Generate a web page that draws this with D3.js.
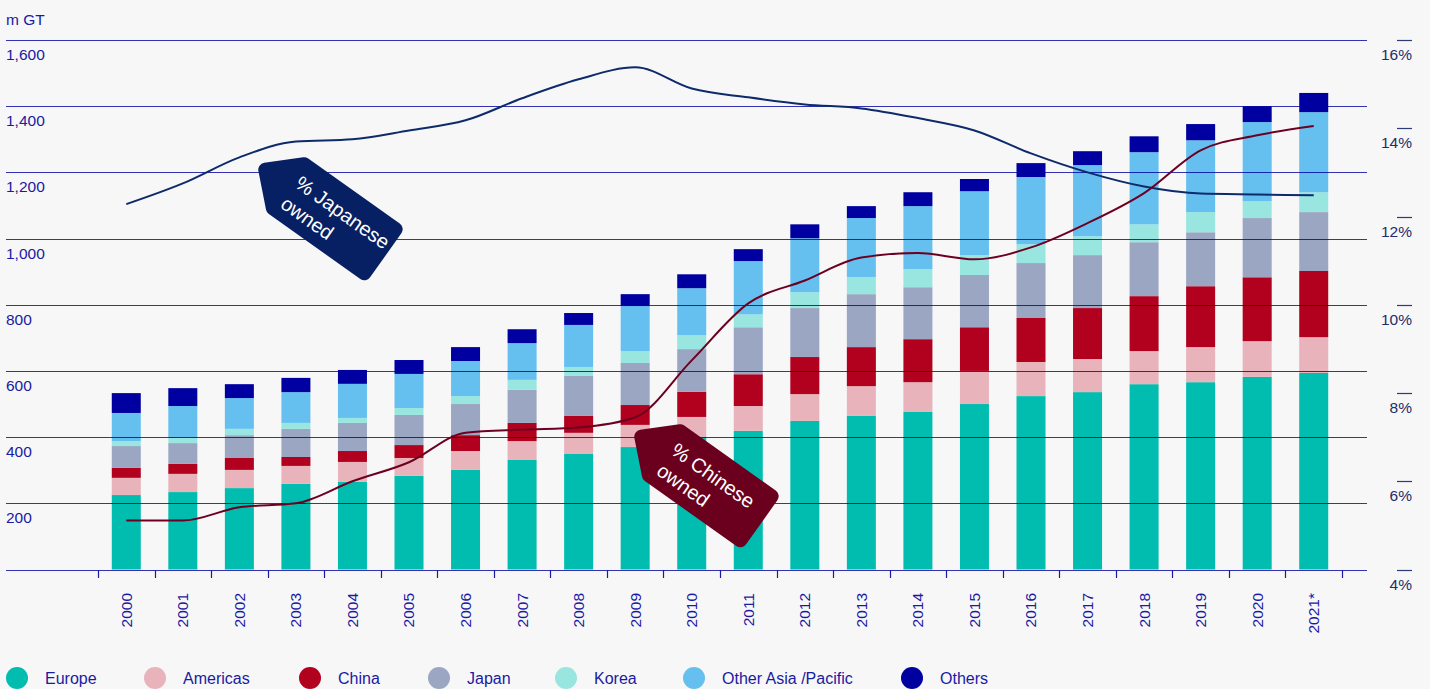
<!DOCTYPE html>
<html>
<head>
<meta charset="utf-8">
<script src="https://cdn.jsdelivr.net/npm/d3@7"></script>
<style>
  html, body { margin: 0; padding: 0; background: #f7f7f7; }
  svg { display: block; font-family: "Liberation Sans", Arial, sans-serif; }
</style>
</head>
<body>
<svg id="chart" width="1430" height="689"></svg>
<script>
// Data (m GT by owner region)
const years = ["2000","2001","2002","2003","2004","2005","2006","2007","2008","2009","2010",
  "2011","2012","2013","2014","2015","2016","2017","2018","2019","2020","2021*"];
const europe    = [225,234,246,259,265,283,301,331,349,370,400,419,449,464,476,500,524,536,560,566,582,594];
const americas  = [52,55,55,54,60,54,57,57,64,67,61,75,81,90,90,100,103,100,100,106,108,108];
const china     = [30,30,36,27,33,39,48,55,51,60,76,96,112,118,130,132,133,154,166,184,193,200];
const japan     = [66,63,69,85,85,91,94,100,121,127,129,142,148,160,157,158,166,160,163,163,179,178];
const korea     = [15,15,19,18,15,21,24,30,27,36,42,39,48,52,55,60,57,57,54,61,51,60];
const otherAsia = [85,97,93,93,103,103,106,111,127,136,142,161,163,178,190,193,203,215,218,217,239,242];
const others    = [60,54,42,43,42,42,42,42,36,36,42,36,42,36,42,37,42,42,48,49,48,58];

// share lines (% of fleet, right axis)
const japanesePct = [12.28,12.75,13.34,13.7,13.75,13.95,14.18,14.68,15.11,15.38,14.9,14.7,14.54,14.45,14.23,13.95,13.43,13.0,12.68,12.52,12.5,12.48];
const chinesePct  = [5.11,5.11,5.41,5.5,6.0,6.43,7.1,7.17,7.22,7.45,8.74,10.03,10.55,11.07,11.17,11.03,11.3,11.85,12.53,13.5,13.84,14.05];

const leftTicks = [200,400,600,800,1000,1200,1400,1600];
const rightTicks = [4,6,8,10,12,14,16];

const keys = ["Europe","Americas","China","Japan","Korea","Other Asia /Pacific","Others"];
const colors = ["#00bdb0","#e8b3bb","#b2001f","#9aa6c2","#98e6df","#65c0f0","#0000a0"];

const table = years.map((y, i) => ({
  year: y,
  "Europe": europe[i], "Americas": americas[i], "China": china[i], "Japan": japan[i],
  "Korea": korea[i], "Other Asia /Pacific": otherAsia[i], "Others": others[i]
}));

const svg = d3.select("#chart");
const blue = "#1a1aa3";

const x = d3.scaleBand().domain(years).range([98, 1342]).paddingInner(0.487).paddingOuter(0.2435);
const y = d3.scaleLinear().domain([0, 1600]).range([569.5, 40]);
const yR = d3.scaleLinear().domain([4, 16]).range([569.5, 40]);
const color = d3.scaleOrdinal().domain(keys).range(colors);
const step = x.step();

// Bars
const stacked = d3.stack().keys(keys)(table);
svg.append("g").attr("class", "bars")
  .selectAll("g")
  .data(stacked)
  .join("g")
  .attr("fill", d => color(d.key))
  .selectAll("rect")
  .data(d => d)
  .join("rect")
  .attr("x", d => x(d.data.year))
  .attr("width", x.bandwidth())
  .attr("y", d => y(d[1]))
  .attr("height", d => y(d[0]) - y(d[1]));

// Gridlines (drawn over the bars)
svg.append("g").attr("class", "grid")
  .selectAll("line")
  .data([0].concat(leftTicks))
  .join("line")
  .attr("x1", 6).attr("x2", 1367)
  .attr("y1", d => Math.round(y(d)) + 0.5)
  .attr("y2", d => Math.round(y(d)) + 0.5)
  .attr("stroke", "#0000a0")
  .attr("stroke-opacity", 0.8)
  .attr("stroke-width", 1.2);

// Left labels
svg.append("text").attr("x", 6).attr("y", 25).attr("fill", blue)
  .attr("font-size", 15.5).text("m GT");
svg.append("g").selectAll("text")
  .data(leftTicks)
  .join("text")
  .attr("x", 6)
  .attr("y", d => y(d) + 20)
  .attr("fill", blue)
  .attr("font-size", 15.5)
  .text(d => d3.format(",")(d));

// Right axis
const right = svg.append("g");
right.selectAll("line")
  .data(rightTicks)
  .join("line")
  .attr("x1", 1397).attr("x2", 1412)
  .attr("y1", d => Math.round(yR(d)) + 0.5)
  .attr("y2", d => Math.round(yR(d)) + 0.5)
  .attr("stroke", "#2d3b78").attr("stroke-width", 1.2);
right.selectAll("text")
  .data(rightTicks)
  .join("text")
  .attr("x", 1412)
  .attr("y", d => yR(d) + 20)
  .attr("text-anchor", "end")
  .attr("fill", "#1e2d6b")
  .attr("font-size", 15.5)
  .text(d => d + "%");

// X axis ticks and labels
const xTicks = years.map(d => x(d) + x.bandwidth() / 2 - step / 2);
xTicks.push(xTicks[xTicks.length - 1] + step);
svg.append("g").selectAll("line")
  .data(xTicks)
  .join("line")
  .attr("x1", d => Math.round(d) + 0.5).attr("x2", d => Math.round(d) + 0.5)
  .attr("y1", 570).attr("y2", 578)
  .attr("stroke", blue).attr("stroke-width", 1.2);
svg.append("g").selectAll("text")
  .data(years)
  .join("text")
  .attr("transform", d => `translate(${x(d) + x.bandwidth() / 2},593) rotate(-90)`)
  .attr("text-anchor", "end")
  .attr("dy", "0.35em")
  .attr("fill", blue)
  .attr("font-size", 15.5)
  .text(d => d);

// Share lines
const line = d3.line()
  .x((d, i) => x(years[i]) + x.bandwidth() / 2)
  .y(d => yR(d))
  .curve(d3.curveMonotoneX);
svg.append("path").datum(japanesePct)
  .attr("d", line).attr("fill", "none")
  .attr("stroke", "#0d2a6b").attr("stroke-width", 2);
svg.append("path").datum(chinesePct)
  .attr("d", line).attr("fill", "none")
  .attr("stroke", "#6d0020").attr("stroke-width", 2);

// Tags
function tagPath(pts, r) {
  const p = d3.path();
  const n = pts.length;
  p.moveTo((pts[n - 1][0] + pts[0][0]) / 2, (pts[n - 1][1] + pts[0][1]) / 2);
  for (let i = 0; i < n; i++) {
    const a = pts[i], b = pts[(i + 1) % n];
    p.arcTo(a[0], a[1], b[0], b[1], r);
  }
  p.closePath();
  return p.toString();
}
const tagShape = [[-97, 0], [-61, -34], [61, -34], [61, 34], [-61, 34]];

function addTag(cx, cy, fill, lines) {
  const g = svg.append("g").attr("transform", `translate(${cx},${cy}) rotate(35.4)`);
  g.append("path").attr("d", tagPath(tagShape, 7)).attr("fill", fill);
  g.selectAll("text")
    .data(lines)
    .join("text")
    .attr("x", -54)
    .attr("y", (d, i) => -3 + i * 25)
    .attr("fill", "#fff")
    .attr("font-size", 20)
    .text(d => d);
}
addTag(336, 220, "#062063", ["% Japanese", "owned"]);
addTag(712, 487, "#6b001e", ["% Chinese", "owned"]);

// Legend (circle centres as laid out in the original)
const legendX = [17, 155, 310, 439, 566, 694, 912];
const legend = svg.append("g").attr("class", "legend");
keys.forEach((k, i) => {
  legend.append("circle").attr("cx", legendX[i]).attr("cy", 678).attr("r", 11).attr("fill", colors[i]);
  legend.append("text")
    .attr("x", legendX[i] + 28).attr("y", 684)
    .attr("fill", blue).attr("font-size", 16)
    .text(k);
});
</script>
</body>
</html>
